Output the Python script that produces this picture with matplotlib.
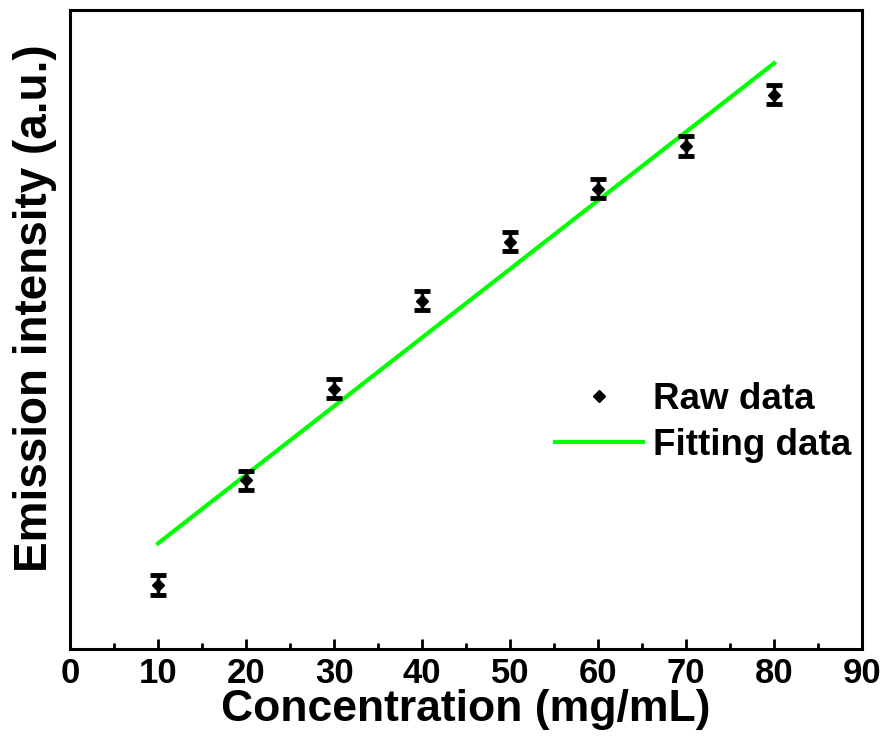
import numpy as np
import matplotlib
matplotlib.use("Agg")
import matplotlib.pyplot as plt
from matplotlib.ticker import MultipleLocator

plt.rcParams['font.family'] = ['Liberation Sans', 'DejaVu Sans']
plt.rcParams['font.weight'] = 'bold'

# concentration series and measured emission (arbitrary units)
conc = [10, 20, 30, 40, 50, 60, 70, 80]
intensity = [10.0, 26.4, 40.7, 54.5, 63.7, 72.0, 78.7, 86.7]
errors = [1.5, 1.5, 1.5, 1.5, 1.5, 1.5, 1.5, 1.5]

# linear fit of the raw data
slope, intercept = np.polyfit(conc, intensity, 1)
fit_x = np.array([conc[0], conc[-1]])
fit_y = slope * fit_x + intercept

fig = plt.figure(figsize=(8.86, 7.44), dpi=100)
ax = fig.add_axes([0.079, 0.1277, 0.894, 0.859])

ax.plot(fit_x, fit_y, color='#00ff00', lw=3, label='Fitting data', zorder=2)
ax.errorbar(conc, intensity, yerr=errors, fmt='D', color='black', ms=6,
            ecolor='black', elinewidth=2.5, capsize=6, capthick=3.5,
            label='Raw data', zorder=3)

ax.set_xlim(0, 90)
ax.set_ylim(0, 100)
ax.xaxis.set_major_locator(MultipleLocator(10))
ax.xaxis.set_minor_locator(MultipleLocator(5))
ax.set_yticks([])
ax.tick_params(axis='x', which='major', direction='in', length=7, width=2,
               labelsize=25, pad=6)
ax.tick_params(axis='x', which='minor', direction='in', length=4, width=2)
for sp in ax.spines.values():
    sp.set_linewidth(2.2)

ax.set_xlabel('Concentration (mg/mL)', fontsize=32, fontweight='bold')
ax.set_ylabel('Emission intensity (a.u.)', fontsize=33, fontweight='bold')
ax.xaxis.set_label_coords(0.5, -0.063)
ax.yaxis.set_label_coords(-0.017, 0.534)

handles, labels = ax.get_legend_handles_labels()
h_raw = plt.Line2D([], [], marker='D', color='black', ls='none', ms=6)
ax.legend([h_raw, handles[0]], ['Raw data', 'Fitting data'],
          loc='upper left', bbox_to_anchor=(0.612, 0.418), frameon=False,
          borderaxespad=0, borderpad=0, fontsize=26.5, handlelength=2.4,
          handletextpad=0.28, labelspacing=0.3)

fig.savefig('out.png', dpi=100)
